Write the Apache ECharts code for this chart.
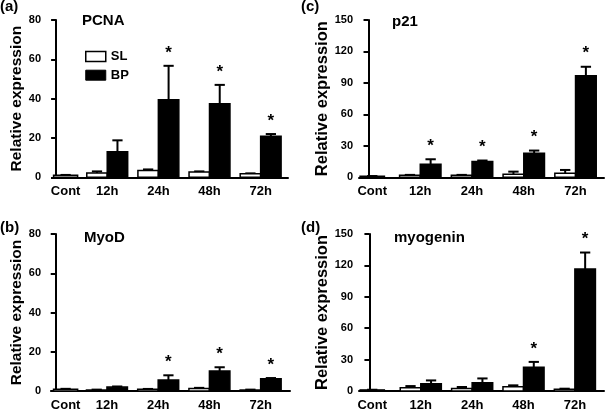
<!DOCTYPE html>
<html>
<head>
<meta charset="utf-8">
<script src="https://cdn.jsdelivr.net/npm/echarts@6/dist/echarts.min.js"></script>
<style>
html,body{margin:0;padding:0;background:#fff;}
#chart{width:605px;height:412px;}
</style>
</head>
<body>
<div id="chart"></div>
<script>
// ---------- data ----------
const categories = ['Cont', '12h', '24h', '48h', '72h'];
const seriesNames = ['SL', 'BP'];
const yAxisTitle = 'Relative expression';
const ticksAB = [0, 20, 40, 60, 80];
const ticksCD = [0, 30, 60, 90, 120, 150];

// PCNA (a)
const pcnaCont = [1.0, 0.2];
const pcnaSL = [2.2, 3.5, 2.7, 1.8];
const pcnaSLErr = [0.8, 0.5, 0.3, 0.2];
const pcnaBP = [13.0, 39.4, 37.4, 20.9];
const pcnaBPErr = [5.8, 17.3, 9.6, 1.1];
const pcnaSig = [0, 1, 1, 1];

// MyoD (b)
const myodCont = [0.9, 0.2];
const myodSL = [0.5, 0.85, 1.3, 0.5];
const myodSLErr = [0.2, 0.2, 0.3, 0.2];
const myodBP = [2.0, 5.6, 10.2, 6.3];
const myodBPErr = [0.3, 2.4, 1.9, 0.3];
const myodSig = [0, 1, 1, 1];

// p21 (c)
const p21Cont = [1.0, 0.2];
const p21SL = [2.0, 2.0, 2.9, 3.8];
const p21SLErr = [0.3, 0.3, 2.5, 3.2];
const p21BP = [12.4, 15.0, 23.0, 96.9];
const p21BPErr = [4.8, 1.0, 2.5, 8.5];
const p21Sig = [1, 1, 1, 1];

// myogenin (d)
const myogCont = [1.0, 0.2];
const myogSL = [3.2, 2.5, 4.1, 1.6];
const myogSLErr = [1.5, 1.3, 1.3, 0.6];
const myogBP = [7.0, 7.9, 22.7, 116.6];
const myogBPErr = [3.1, 4.1, 5.1, 15.7];
const myogSig = [0, 0, 1, 1];

const panelData = [
  {tag: '(a)', gene: 'PCNA', ticks: ticksAB, cont: pcnaCont, sl: pcnaSL, slErr: pcnaSLErr, bp: pcnaBP, bpErr: pcnaBPErr, sig: pcnaSig},
  {tag: '(b)', gene: 'MyoD', ticks: ticksAB, cont: myodCont, sl: myodSL, slErr: myodSLErr, bp: myodBP, bpErr: myodBPErr, sig: myodSig},
  {tag: '(c)', gene: 'p21', ticks: ticksCD, cont: p21Cont, sl: p21SL, slErr: p21SLErr, bp: p21BP, bpErr: p21BPErr, sig: p21Sig},
  {tag: '(d)', gene: 'myogenin', ticks: ticksCD, cont: myogCont, sl: myogSL, slErr: myogSLErr, bp: myogBP, bpErr: myogBPErr, sig: myogSig}
];

// ---------- layout ----------
const FONT = '"Liberation Sans", Arial, Helvetica, sans-serif';
const layouts = [
  {grid: {left: 52, top: 20, width: 236, height: 157.3}, xmin: -0.08, xmax: 4.535, contPos: 0.186,
   tag: {left: 0, top: -1}, gene: {left: 82, top: 13}, nameSize: 15.5, nameGap: 24, labelMargin: 11},
  {grid: {left: 51, top: 234, width: 239, height: 158}, xmin: -0.092, xmax: 4.573, contPos: 0.193,
   tag: {left: 0, top: 220}, gene: {left: 84, top: 230}, nameSize: 15.5, nameGap: 23, labelMargin: 10},
  {grid: {left: 359, top: 20, width: 245, height: 157.3}, xmin: -0.184, xmax: 4.55, contPos: 0.072,
   tag: {left: 301, top: -1}, gene: {left: 392, top: 14}, nameSize: 16.5, nameGap: 23, labelMargin: 6},
  {grid: {left: 359, top: 234, width: 245, height: 158}, xmin: -0.203, xmax: 4.567, contPos: 0.055,
   tag: {left: 301, top: 220}, gene: {left: 394, top: 230}, nameSize: 16.5, nameGap: 23, labelMargin: 6}
];
const BAR_W = 0.4;
const CONT_W = 0.47;
const CAP_W = 0.2;

function makeRender(mode) {
  return function (params, api) {
    const pos = api.value(0), v = api.value(1), e = api.value(2), sig = api.value(3);
    const w = mode === 'cont' ? CONT_W : BAR_W;
    const x0 = mode === 'left' ? pos - w : (mode === 'right' ? pos : pos - w / 2);
    const xc = x0 + w / 2;
    const pTop = api.coord([x0, v]);
    const pBot = api.coord([x0 + w, 0]);
    const pErr = api.coord([xc, v + e]);
    const capHalf = api.size([CAP_W, 0])[0] / 2;
    const fill = mode === 'right' ? '#000' : '#fff';
    const children = [
      {type: 'line', shape: {x1: pErr[0], y1: pTop[1], x2: pErr[0], y2: pErr[1]}, style: {stroke: '#000', lineWidth: 2}},
      {type: 'line', shape: {x1: pErr[0] - capHalf, y1: pErr[1], x2: pErr[0] + capHalf, y2: pErr[1]}, style: {stroke: '#000', lineWidth: 2}},
      {type: 'rect', shape: {x: pTop[0], y: pTop[1], width: pBot[0] - pTop[0], height: pBot[1] - pTop[1]},
       style: {fill: fill, stroke: '#000', lineWidth: 1.5}}
    ];
    if (sig) {
      children.push({type: 'text', x: pErr[0], y: pErr[1] - 13,
        style: {text: '*', fill: '#000', font: 'bold 17px ' + FONT, align: 'center', verticalAlign: 'middle'}});
    }
    return {type: 'group', children: children};
  };
}

const option = {
  animation: false,
  backgroundColor: '#fff',
  title: [],
  grid: [],
  xAxis: [],
  yAxis: [],
  series: [],
  legend: {
    data: [
      {name: seriesNames[0], icon: 'rect', itemStyle: {color: '#fff', borderColor: '#000', borderWidth: 1.5}},
      {name: seriesNames[1], icon: 'rect', itemStyle: {color: '#000', borderColor: '#000', borderWidth: 1}}
    ],
    left: 85, top: 50, orient: 'vertical', itemWidth: 20, itemHeight: 10, itemGap: 5.7, padding: 0,
    selectedMode: false,
    textStyle: {fontSize: 13, fontWeight: 'bold', fontFamily: FONT, color: '#000'}
  }
};

panelData.forEach(function (d, i) {
  const L = layouts[i];
  const positions = [L.contPos, 1, 2, 3, 4];
  option.title.push({text: d.tag, left: L.tag.left, top: L.tag.top, padding: 0,
    textStyle: {fontSize: 15, fontWeight: 'bold', fontFamily: FONT, color: '#000'}});
  option.title.push({text: d.gene, left: L.gene.left, top: L.gene.top, padding: 0,
    textStyle: {fontSize: 15, fontWeight: 'bold', fontFamily: FONT, color: '#000'}});
  option.grid.push(Object.assign({containLabel: false}, L.grid));
  option.xAxis.push({
    type: 'value', gridIndex: i, min: L.xmin, max: L.xmax,
    splitLine: {show: false},
    axisTick: {show: false},
    axisLine: {show: true, onZero: false, lineStyle: {color: '#000', width: 2}},
    axisLabel: {
      show: true, customValues: positions, margin: 8,
      fontSize: 13, fontWeight: 'bold', fontFamily: FONT, color: '#000',
      formatter: function (val) {
        let best = 0, bd = Infinity;
        positions.forEach(function (p, k) { const dd = Math.abs(p - val); if (dd < bd) { bd = dd; best = k; } });
        return categories[best];
      }
    }
  });
  option.yAxis.push({
    type: 'value', gridIndex: i,
    min: d.ticks[0], max: d.ticks[d.ticks.length - 1], interval: d.ticks[1] - d.ticks[0],
    name: yAxisTitle, nameLocation: 'middle', nameRotate: 90, nameGap: L.nameGap,
    nameTextStyle: {fontSize: L.nameSize, fontWeight: 'bold', fontFamily: FONT, color: '#000'},
    splitLine: {show: false},
    axisLine: {show: true, lineStyle: {color: '#000', width: 2}},
    axisTick: {show: true, length: 5, lineStyle: {color: '#000', width: 2}},
    axisLabel: {margin: L.labelMargin, fontSize: 11, fontWeight: 'bold', fontFamily: FONT, color: '#000'}
  });
  const contRows = [[L.contPos, d.cont[0], d.cont[1], 0]];
  const slRows = d.sl.map(function (v, k) { return [positions[k + 1], v, d.slErr[k], 0]; });
  const bpRows = d.bp.map(function (v, k) { return [positions[k + 1], v, d.bpErr[k], d.sig[k]]; });
  option.series.push({type: 'custom', name: 'Cont', xAxisIndex: i, yAxisIndex: i, data: contRows,
    encode: {x: 0, y: 1}, renderItem: makeRender('cont'), clip: false, z: 1});
  option.series.push({type: 'custom', name: seriesNames[0], xAxisIndex: i, yAxisIndex: i, data: slRows,
    encode: {x: 0, y: 1}, renderItem: makeRender('left'), clip: false, z: 1,
    itemStyle: {color: '#fff', borderColor: '#000'}});
  option.series.push({type: 'custom', name: seriesNames[1], xAxisIndex: i, yAxisIndex: i, data: bpRows,
    encode: {x: 0, y: 1}, renderItem: makeRender('right'), clip: false, z: 1,
    itemStyle: {color: '#000'}});
});

const chart = echarts.init(document.getElementById('chart'), null, {renderer: 'canvas'});
chart.setOption(option);
</script>
</body>
</html>
